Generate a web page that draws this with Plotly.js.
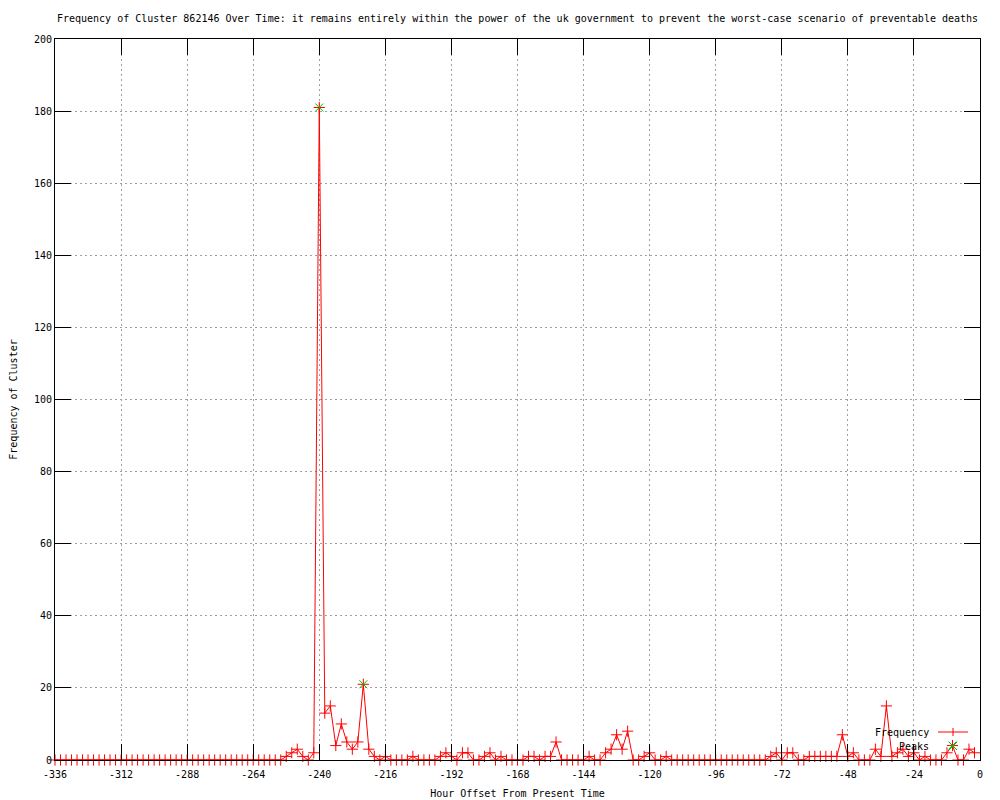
<!DOCTYPE html>
<html>
<head>
<meta charset="utf-8">
<script src="https://cdn.plot.ly/plotly-3.0.1.min.js"></script>
<style>html,body{margin:0;padding:0;background:#fff;}#chart{width:1000px;height:800px;}</style>
</head>
<body>
<div id="chart"></div>
<script>
// Hour offsets (every 2 hours)
const hours = [
-336,-334,-332,-330,-328,-326,-324,-322,-320,-318,-316,-314,-312,-310,-308,-306,-304,-302,-300,-298,
-296,-294,-292,-290,-288,-286,-284,-282,-280,-278,-276,-274,-272,-270,-268,-266,-264,-262,-260,-258,
-256,-254,-252,-250,-248,-246,-244,-242,-240,-238,-236,-234,-232,-230,-228,-226,-224,-222,-220,-218,
-216,-214,-212,-210,-208,-206,-204,-202,-200,-198,-196,-194,-192,-190,-188,-186,-184,-182,-180,-178,
-176,-174,-172,-170,-168,-166,-164,-162,-160,-158,-156,-154,-152,-150,-148,-146,-144,-142,-140,-138,
-136,-134,-132,-130,-128,-126,-124,-122,-120,-118,-116,-114,-112,-110,-108,-106,-104,-102,-100,-98,
-96,-94,-92,-90,-88,-86,-84,-82,-80,-78,-76,-74,-72,-70,-68,-66,-64,-62,-60,-58,
-56,-54,-52,-50,-48,-46,-44,-42,-40,-38,-36,-34,-32,-30,-28,-26,-24,-22,-20,-18,
-16,-14,-12,-10,-8,-6,-4,-2
];
const frequency = [
0,0,0,0,0,0,0,0,0,0,0,0,0,0,0,0,0,0,0,0,
0,0,0,0,0,0,0,0,0,0,0,0,0,0,0,0,0,0,0,0,
0,0,1,2,3,1,0,2,181,13,15,4,10,5,3,5,21,3,1,0,
1,0,0,0,0,1,0,0,0,0,1,2,1,0,2,2,0,0,1,2,
0,1,0,0,0,0,1,1,0,1,1,5,0,0,0,0,0,1,0,0,
2,3,7,3,8,0,0,1,2,0,0,1,0,0,0,0,0,0,0,0,
0,0,0,0,0,0,0,0,0,0,1,2,0,2,2,0,0,1,1,1,
1,1,1,7,1,2,0,0,0,3,1,15,1,2,3,1,2,0,1,0,
0,0,2,4,0,0,3,2
];
const peakHours = [-240, -224, -10];
const peakValues = [181, 21, 4];
const xTicks = [-336,-312,-288,-264,-240,-216,-192,-168,-144,-120,-96,-72,-48,-24,0];
const yTicks = [0,20,40,60,80,100,120,140,160,180,200];

const FONT = 'DejaVu Sans Mono, monospace';
const px = v => (v - 55) / 925;
const py = v => (760 - v) / 721;

const traces = [
  {
    x: hours, y: frequency, name: 'Frequency', type: 'scatter', mode: 'lines+markers',
    line: {color: '#ff0000', width: 1},
    marker: {symbol: 'cross-thin-open', size: 8, color: '#ff0000', line: {color: '#ff0000', width: 1}},
    cliponaxis: false, showlegend: false, hoverinfo: 'skip'
  },
  {
    x: peakHours, y: peakValues, name: 'Peaks', type: 'scatter', mode: 'markers',
    marker: {symbol: 'x-thin-open', size: 8, color: '#00c000', line: {color: '#00c000', width: 1}},
    cliponaxis: false, showlegend: false, hoverinfo: 'skip'
  }
];

const axisCommon = {
  showline: true, mirror: 'ticks', linecolor: '#000', linewidth: 1,
  ticks: 'inside', ticklen: 16, tickcolor: '#000', tickwidth: 1,
  showgrid: true, gridcolor: '#a0a0a0', gridwidth: 1, griddash: '2px,3px',
  zeroline: false, tickfont: {family: FONT, size: 10, color: '#000'},
  fixedrange: true
};

const layout = {
  width: 1000, height: 800,
  paper_bgcolor: '#fff', plot_bgcolor: '#fff',
  margin: {l: 55, r: 20, t: 39, b: 40},
  font: {family: FONT, size: 10, color: '#000'},
  title: {
    text: 'Frequency of Cluster 862146 Over Time: it remains entirely within the power of the uk government to prevent the worst-case scenario of preventable deaths',
    font: {family: FONT, size: 10, color: '#000'},
    x: 0.5, xref: 'paper', xanchor: 'center',
    y: 1 - 18/800, yref: 'container', yanchor: 'middle'
  },
  xaxis: Object.assign({}, axisCommon, {
    range: [-336, 0], tickmode: 'array', tickvals: xTicks, ticktext: xTicks.map(String),
    ticklabelstandoff: 5,
    title: {text: 'Hour Offset From Present Time', font: {family: FONT, size: 10, color: '#000'}, standoff: 10}
  }),
  yaxis: Object.assign({}, axisCommon, {
    range: [0, 200], tickmode: 'array', tickvals: yTicks, ticktext: yTicks.map(String),
    title: {text: 'Frequency of Cluster', font: {family: FONT, size: 10, color: '#000'}, standoff: 14}
  }),
  showlegend: false,
  annotations: [
    {xref: 'paper', yref: 'paper', x: px(931), y: py(732), text: 'Frequency', showarrow: false,
     xanchor: 'right', yanchor: 'middle', font: {family: FONT, size: 10, color: '#000'}},
    {xref: 'paper', yref: 'paper', x: px(931), y: py(746), text: 'Peaks', showarrow: false,
     xanchor: 'right', yanchor: 'middle', font: {family: FONT, size: 10, color: '#000'}}
  ],
  shapes: [
    {type: 'line', xref: 'paper', yref: 'paper', x0: px(938), x1: px(968), y0: py(732), y1: py(732), line: {color: '#ff0000', width: 1}},
    {type: 'line', xref: 'paper', yref: 'paper', x0: px(953), x1: px(953), y0: py(728), y1: py(736), line: {color: '#ff0000', width: 1}},
    {type: 'line', xref: 'paper', yref: 'paper', x0: px(949), x1: px(957), y0: py(742), y1: py(750), line: {color: '#00c000', width: 1}},
    {type: 'line', xref: 'paper', yref: 'paper', x0: px(949), x1: px(957), y0: py(750), y1: py(742), line: {color: '#00c000', width: 1}}
  ]
};

Plotly.newPlot('chart', traces, layout, {displayModeBar: false, staticPlot: true});
</script>
</body>
</html>
